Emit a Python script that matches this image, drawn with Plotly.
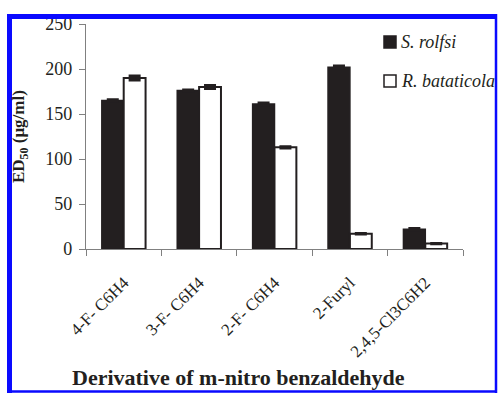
import plotly.graph_objects as go

categories = ["4-F- C6H4", "3-F- C6H4", "2-F- C6H4", "2-Furyl", "2,4,5-Cl3C6H2"]
s_rolfsi = [165, 176, 161, 202, 22]
r_bataticola = [190, 180, 113, 17, 6]
s_rolfsi_err = [1, 1, 1.5, 1.5, 1]
r_bataticola_err = [2.5, 2, 1, 0.5, 0.5]
series_names = ["S. rolfsi", "R. bataticola"]
y_ticks = [0, 50, 100, 150, 200, 250]

W, H = 498, 393
L, R, T, B = 86, 35, 24, 144
PW, PH = W - L - R, H - T - B


def px_x(px):
    return (px - L) / PW


def px_y(py):
    return (H - B - py) / PH


SERIF = "Liberation Serif"
BLACK = "#231f20"

fig = go.Figure()
fig.add_trace(go.Bar(
    x=categories, y=s_rolfsi, name=series_names[0],
    marker=dict(color=BLACK, line=dict(color=BLACK, width=1.5)),
    error_y=dict(type="data", array=s_rolfsi_err, visible=True,
                 color=BLACK, thickness=2.5, width=6),
    showlegend=False,
))
fig.add_trace(go.Bar(
    x=categories, y=r_bataticola, name=series_names[1],
    marker=dict(color="white", line=dict(color=BLACK, width=2)),
    error_y=dict(type="data", array=r_bataticola_err, visible=True,
                 color=BLACK, thickness=2.5, width=6),
    showlegend=False,
))

shapes = []
annotations = []

# manual legend
legend_rows = [(series_names[0], BLACK, 42), (series_names[1], "white", 81)]
for name, fill, cy in legend_rows:
    shapes.append(dict(type="rect", xref="paper", yref="paper",
                       x0=px_x(384), x1=px_x(396), y0=px_y(cy - 6), y1=px_y(cy + 6),
                       fillcolor=fill, line=dict(color=BLACK, width=1.5)))
    annotations.append(dict(text="<i>" + name + "</i>", xref="paper", yref="paper",
                            x=px_x(399), y=px_y(cy), xanchor="left", yanchor="middle",
                            showarrow=False,
                            font=dict(family=SERIF, size=18, color=BLACK)))

# axis titles
annotations.append(dict(text="<b>ED<sub>50</sub> (μg/ml)</b>", xref="paper", yref="paper",
                        x=px_x(20), y=px_y(137), xanchor="center", yanchor="middle",
                        textangle=-90, showarrow=False,
                        font=dict(family=SERIF, size=17, color=BLACK)))
annotations.append(dict(text="<b>Derivative of m-nitro benzaldehyde</b>", xref="paper", yref="paper",
                        x=px_x(238), y=px_y(377), xanchor="center", yanchor="middle",
                        showarrow=False,
                        font=dict(family=SERIF, size=22, color=BLACK)))

# blue frame
BLUE = "#0a0aff"
shapes += [
    dict(type="line", xref="paper", yref="paper", layer="above",
         x0=px_x(7), x1=px_x(497), y0=px_y(16.5), y1=px_y(16.5), line=dict(color=BLUE, width=5)),
    dict(type="line", xref="paper", yref="paper", layer="above",
         x0=px_x(9.5), x1=px_x(9.5), y0=px_y(14), y1=px_y(393), line=dict(color=BLUE, width=5)),
    dict(type="line", xref="paper", yref="paper", layer="above",
         x0=px_x(496), x1=px_x(496), y0=px_y(14), y1=px_y(393), line=dict(color=BLUE, width=2.5)),
    dict(type="line", xref="paper", yref="paper", layer="above",
         x0=px_x(7), x1=px_x(497), y0=px_y(391.5), y1=px_y(391.5), line=dict(color=BLUE, width=2.5)),
]

fig.update_layout(
    width=W, height=H,
    margin=dict(l=L, r=R, t=T, b=B, autoexpand=False),
    paper_bgcolor="white", plot_bgcolor="white",
    barmode="group", bargap=0.42, bargroupgap=0,
    showlegend=False,
    shapes=shapes, annotations=annotations,
    font=dict(family=SERIF, color=BLACK),
)
fig.update_xaxes(
    automargin=False,
    showline=True, linecolor="#808080", linewidth=1.2,
    ticks="outside", ticklen=6, tickcolor="#808080", tickson="boundaries",
    tickangle=-45, ticklabelstandoff=16,
    tickfont=dict(family=SERIF, size=17, color=BLACK),
    showgrid=False, zeroline=False,
)
fig.update_yaxes(
    automargin=False,
    range=[0, 250], tickvals=y_ticks, ticktext=[str(v) for v in y_ticks],
    showline=True, linecolor="#808080", linewidth=1.2,
    ticks="outside", ticklen=6, tickcolor="#808080", ticklabelstandoff=3,
    tickfont=dict(family=SERIF, size=18, color=BLACK),
    showgrid=False, zeroline=False,
)

fig.write_html(
    "out.html",
    config={"displayModeBar": False},
    post_script="document.body.style.margin='0';document.body.style.overflow='hidden';",
)
